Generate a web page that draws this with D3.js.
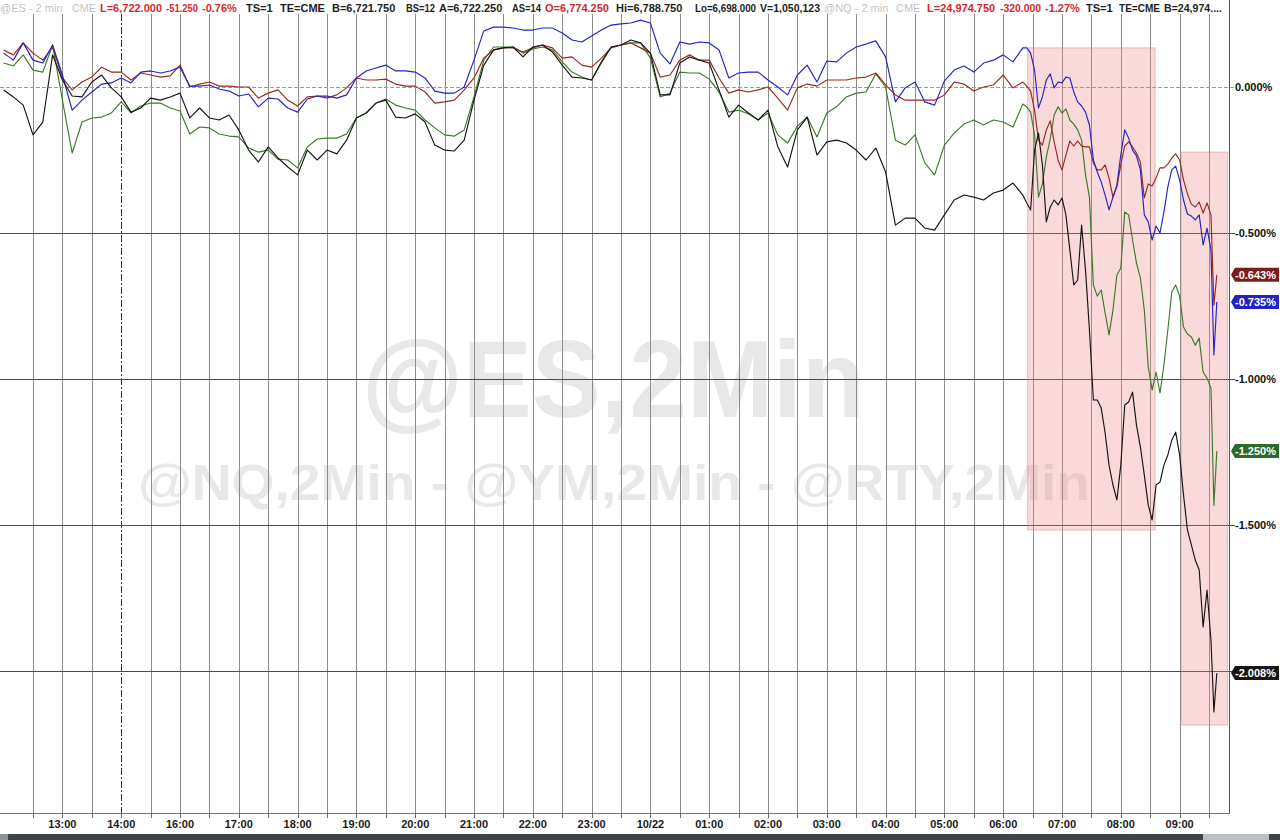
<!DOCTYPE html>
<html><head><meta charset="utf-8">
<script src="https://cdn.jsdelivr.net/npm/d3@7"></script>
<style>
body{margin:0;background:#fff;overflow:hidden}
svg{display:block}
text{font-family:"Liberation Sans",Arial,sans-serif}
</style>
</head><body>
<svg id="c" width="1280" height="840"></svg>
<script>
// ---------- DATA ----------
// sample times: session minutes since 12:00 (10-minute samples, then 4-minute samples in the sell-off)
const sampleMinutes = d3.range(0, 1040, 10).concat(d3.range(1040, 1236, 4), [1235, 1238]);

const esPct = [
 0.127, 0.110, 0.151, 0.116, 0.092, 0.137, 0.031,-0.010, 0.017, 0.034,
 0.068, 0.051, 0.051, 0.024, 0.048, 0.041, 0.034, 0.038, 0.075, 0.000,
 0.010, 0.017, 0.003, 0.003, 0.000, 0.000,-0.038,-0.021,-0.010,-0.045,
-0.065,-0.034,-0.031,-0.038,-0.027,-0.003, 0.031, 0.024, 0.024, 0.027,
 0.010, 0.003, 0.003,-0.017,-0.055,-0.051,-0.045,-0.010, 0.031, 0.099,
 0.127, 0.134, 0.134, 0.120, 0.134, 0.144, 0.134, 0.099, 0.103, 0.075,
 0.068, 0.099, 0.134, 0.144, 0.151, 0.134, 0.116, 0.034, 0.041, 0.092,
 0.110, 0.092, 0.092, 0.031,-0.021,-0.010,-0.017,-0.010, 0.000,-0.038,
-0.079,-0.003, 0.010, 0.003, 0.024, 0.024, 0.024, 0.031, 0.034, 0.048,
 0.007,-0.027,-0.045,-0.045,-0.045,-0.045,-0.027, 0.017, 0.010,-0.014,
 0.000, 0.007, 0.041,-0.003,
 0.017, 0.003,-0.014,-0.079,-0.182,-0.199,-0.147,-0.116,-0.188,-0.250,
-0.284,-0.233,-0.185,-0.202,-0.185,-0.202,-0.205,-0.205,-0.260,-0.284,
-0.284,-0.267,-0.312,-0.377,-0.342,-0.267,-0.202,-0.188,-0.205,-0.226,
-0.257,-0.380,-0.332,-0.339,-0.312,-0.277,-0.277,-0.264,-0.243,-0.229,
-0.250,-0.318,-0.366,-0.401,-0.411,-0.394,-0.432,-0.397,-0.438,
-0.747,-0.643];

const nqPct = [
 0.116, 0.092, 0.151, 0.092, 0.082, 0.144, 0.041,-0.079,-0.045,-0.017,
 0.010, 0.014, 0.031, 0.014, 0.051, 0.055, 0.048, 0.055, 0.068, 0.003,
 0.003, 0.007,-0.007,-0.014,-0.031,-0.024,-0.068,-0.038,-0.041,-0.072,
-0.086,-0.041,-0.031,-0.031,-0.038,-0.027, 0.031, 0.055, 0.065, 0.075,
 0.055, 0.055, 0.051, 0.031,-0.014,-0.021,-0.021, 0.000, 0.092, 0.192,
 0.205, 0.205, 0.202, 0.195, 0.195, 0.202, 0.202, 0.185, 0.161, 0.154,
 0.175, 0.195, 0.212, 0.216, 0.219, 0.229, 0.219, 0.116, 0.079, 0.154,
 0.147, 0.154, 0.151, 0.127, 0.031, 0.048, 0.051, 0.051, 0.024, 0.000,
-0.027, 0.041, 0.075, 0.017, 0.089, 0.086, 0.116, 0.137, 0.147, 0.158,
 0.103,-0.051,-0.003, 0.017,-0.051,-0.062, 0.021, 0.058, 0.072, 0.051,
 0.082, 0.092, 0.110, 0.086,
 0.134, 0.134, 0.116, 0.058,-0.072,-0.034, 0.024, 0.045,-0.003, 0.017,
 0.014, 0.034, 0.031,-0.017,-0.051,-0.065,-0.086,-0.130,-0.250,-0.291,
-0.325,-0.370,-0.421,-0.377,-0.336,-0.233,-0.147,-0.175,-0.216,-0.236,
-0.284,-0.438,-0.462,-0.524,-0.476,-0.500,-0.428,-0.342,-0.284,-0.271,
-0.318,-0.387,-0.435,-0.442,-0.455,-0.438,-0.541,-0.483,-0.558,
-0.918,-0.736];

const ymPct = [
 0.082, 0.072, 0.110, 0.058, 0.051, 0.144,-0.045,-0.226,-0.120,-0.106,
-0.103,-0.089,-0.051,-0.089,-0.065,-0.055,-0.055,-0.072,-0.082,-0.161,
-0.137,-0.140,-0.161,-0.168,-0.171,-0.209,-0.223,-0.216,-0.247,-0.250,
-0.277,-0.205,-0.178,-0.175,-0.175,-0.161,-0.106,-0.089,-0.055,-0.041,
-0.062,-0.072,-0.079,-0.113,-0.140,-0.164,-0.168,-0.147,-0.034, 0.092,
 0.137, 0.137, 0.137, 0.116, 0.130, 0.137, 0.127, 0.086, 0.051, 0.034,
 0.024, 0.082, 0.137, 0.144, 0.151, 0.151, 0.099,-0.034,-0.021, 0.051,
 0.048, 0.048, 0.027,-0.017,-0.086,-0.079,-0.092,-0.113,-0.089,-0.164,
-0.192,-0.134,-0.103,-0.171,-0.089,-0.068,-0.034,-0.021,-0.017, 0.045,
 0.000,-0.182,-0.199,-0.164,-0.260,-0.301,-0.199,-0.158,-0.127,-0.113,
-0.130,-0.113,-0.120,-0.137,
-0.058,-0.068,-0.086,-0.164,-0.377,-0.332,-0.240,-0.178,-0.096,-0.068,
-0.089,-0.075,-0.113,-0.127,-0.147,-0.182,-0.301,-0.377,-0.678,-0.716,
-0.695,-0.774,-0.849,-0.764,-0.644,-0.620,-0.428,-0.438,-0.524,-0.603,
-0.654,-0.764,-0.959,-1.038,-0.976,-1.048,-0.952,-0.832,-0.702,-0.678,
-0.716,-0.822,-0.846,-0.856,-0.884,-0.860,-0.976,-0.997,-1.031,
-1.432,-1.247];

const rtyPct = [
-0.010,-0.034,-0.062,-0.164,-0.120, 0.110, 0.024,-0.031,-0.034, 0.017,
 0.041,-0.003,-0.034,-0.086,-0.072,-0.038,-0.045,-0.034,-0.021,-0.106,
-0.072,-0.106,-0.113,-0.096,-0.147,-0.216,-0.257,-0.205,-0.243,-0.274,
-0.301,-0.216,-0.250,-0.216,-0.229,-0.182,-0.106,-0.089,-0.055,-0.045,
-0.103,-0.106,-0.092,-0.120,-0.199,-0.216,-0.219,-0.182,-0.045, 0.075,
 0.127, 0.134, 0.137, 0.103, 0.137, 0.144, 0.120, 0.075, 0.034, 0.031,
 0.024, 0.086, 0.137, 0.144, 0.161, 0.151, 0.116,-0.027,-0.027, 0.082,
 0.103, 0.092, 0.082,-0.010,-0.103,-0.062,-0.089,-0.113,-0.079,-0.205,
-0.274,-0.147,-0.103,-0.233,-0.188,-0.182,-0.192,-0.216,-0.250,-0.209,
-0.291,-0.473,-0.449,-0.449,-0.483,-0.490,-0.438,-0.387,-0.370,-0.377,
-0.387,-0.363,-0.353,-0.329,
-0.370,-0.397,-0.421,-0.216,-0.158,-0.267,-0.462,-0.411,-0.387,-0.404,
-0.380,-0.438,-0.558,-0.678,-0.661,-0.473,-0.627,-0.832,-1.072,-1.072,
-1.099,-1.185,-1.295,-1.363,-1.414,-1.295,-1.089,-1.079,-1.045,-1.158,
-1.233,-1.329,-1.432,-1.483,-1.363,-1.353,-1.295,-1.260,-1.209,-1.182,
-1.260,-1.397,-1.517,-1.568,-1.620,-1.654,-1.849,-1.723,-1.894,
-2.140,-2.007];

const seriesNames = ["@ES", "@NQ", "@YM", "@RTY"];
const lastLabels = ["-0.643%", "-0.735%", "-1.250%", "-2.008%"];

const yTicks = [0, -0.5, -1, -1.5, -2];
const yTickLabels = ["0.000%", "-0.500%", "-1.000%", "-1.500%", "-2.000%"];

// half-hour grid slots; slot s sits at session minute 30 + 30*s
const gridSlots = d3.range(0, 41);
const timeLabels = ["13:00","14:00","16:00","17:00","18:00","19:00","20:00","21:00","22:00","23:00",
                    "10/22","01:00","02:00","03:00","04:00","05:00","06:00","07:00","08:00","09:00"];
const timeLabelSlots = [1,3,5,7,9,11,13,15,17,19,21,23,25,27,29,31,33,35,37,39];
const sessionBreakSlot = 3;

// highlighted zones (session minutes, percent)
const zoneStart = [1045, 1202];
const zoneEnd   = [1175, 1249];
const zoneTop   = [0.134, -0.223];
const zoneBottom= [-1.517, -2.185];

// ---------- LAYOUT ----------
const W = 1280, H = 840;
const plotRight = 1229.5, axisY = 813;
const svg = d3.select("#c");
svg.append("rect").attr("width", W).attr("height", H).attr("fill", "#fff");

const x = d3.scaleLinear().domain([0, 1260]).range([3.6, 3.6 + 1260 * 0.98]);
const y = d3.scaleLinear().domain([0, -2]).range([87, 671]);
const slotX = s => x(30 + 30 * s);

const colors = ["#952a20", "#2323c8", "#3b7a2c", "#151515"];
const labelFill = ["#7a1d1a", "#2222c6", "#2a6a2a", "#161616"];
const allSeries = [esPct, nqPct, ymPct, rtyPct];

// watermarks
svg.append("text").attr("x", 362).attr("y", 417).attr("textLength", 503)
  .attr("lengthAdjust", "spacingAndGlyphs")
  .attr("font-size", 110).attr("font-weight", "bold").attr("fill", "#e8e8e8")
  .text("@ES,2Min");
svg.append("text").attr("x", 138).attr("y", 500).attr("textLength", 952)
  .attr("lengthAdjust", "spacingAndGlyphs")
  .attr("font-size", 50).attr("font-weight", "bold").attr("fill", "#e8e8e8")
  .text("@NQ,2Min - @YM,2Min - @RTY,2Min");

// vertical grid
const g = svg.append("g").attr("shape-rendering", "crispEdges");
g.selectAll("line.v").data(gridSlots).join("line")
  .attr("x1", s => Math.round(slotX(s)) + 0.5).attr("x2", s => Math.round(slotX(s)) + 0.5)
  .attr("y1", 14).attr("y2", axisY + 5)
  .attr("stroke", s => s === sessionBreakSlot ? "#333" : "#8c8c8c")
  .attr("stroke-dasharray", s => s === sessionBreakSlot ? "7,2,2,2" : null)
  .attr("stroke-width", 1);

// horizontal grid
g.selectAll("line.h").data(yTicks).join("line")
  .attr("x1", 0).attr("x2", plotRight + 5)
  .attr("y1", d => Math.round(y(d)) + 0.5).attr("y2", d => Math.round(y(d)) + 0.5)
  .attr("stroke", d => d === 0 ? "#9a9a9a" : "#4a4a4a")
  .attr("stroke-dasharray", d => d === 0 ? "4,2" : null);

// highlight zones
svg.append("g").selectAll("rect").data(zoneStart).join("rect")
  .attr("x", (d, i) => x(zoneStart[i]))
  .attr("width", (d, i) => x(zoneEnd[i]) - x(zoneStart[i]))
  .attr("y", (d, i) => y(zoneTop[i]))
  .attr("height", (d, i) => y(zoneBottom[i]) - y(zoneTop[i]))
  .attr("fill", "rgba(236,128,128,0.30)")
  .attr("stroke", "rgba(225,120,120,0.45)").attr("stroke-width", 1);

// right axis line
g.append("line").attr("x1", plotRight).attr("x2", plotRight).attr("y1", 0).attr("y2", axisY)
  .attr("stroke", "#555");

// bottom axis
g.append("line").attr("x1", 0).attr("x2", plotRight).attr("y1", axisY + 0.5).attr("y2", axisY + 0.5)
  .attr("stroke", "#777");
g.selectAll("line.t").data(gridSlots).join("line")
  .attr("x1", s => Math.round(slotX(s)) + 0.5).attr("x2", s => Math.round(slotX(s)) + 0.5)
  .attr("y1", axisY).attr("y2", axisY + 5).attr("stroke", "#666");

svg.append("g").selectAll("text").data(timeLabels).join("text")
  .attr("x", (d, i) => slotX(timeLabelSlots[i]))
  .attr("y", 828).attr("text-anchor", "middle")
  .attr("font-size", 11).attr("font-weight", "bold").attr("fill", "#1a1a1a")
  .text(d => d);

// bottom scrollbar strip
svg.append("rect").attr("x", 0).attr("y", 834).attr("width", W).attr("height", 6).attr("fill", "#3d424c");
svg.append("rect").attr("x", 0).attr("y", 834).attr("width", 8).attr("height", 6).attr("fill", "#8e949e");
svg.append("rect").attr("x", 1203).attr("y", 834).attr("width", 66).attr("height", 6).attr("fill", "#b9bec8");

// y tick labels
svg.append("g").selectAll("text").data(yTicks.slice(0, 4)).join("text")
  .attr("x", 1235).attr("y", d => y(d) + 4)
  .attr("font-size", 11).attr("font-weight", "bold").attr("fill", "#111")
  .text((d, i) => yTickLabels[i]);

// series lines
const line = d3.line().x((d, i) => x(sampleMinutes[i])).y(d => y(d)).curve(d3.curveLinear);
[2, 0, 1, 3].forEach(si => {
  svg.append("path").datum(allSeries[si])
    .attr("d", line).attr("fill", "none")
    .attr("stroke", colors[si]).attr("stroke-width", 1.15)
    .attr("stroke-linejoin", "round");
});

// last value tags
const tags = svg.append("g");
allSeries.forEach((s, i) => {
  const yy = y(s[s.length - 1]);
  tags.append("path")
    .attr("d", `M1231,${yy} L1235,${yy - 7} L1279,${yy - 7} L1279,${yy + 7} L1235,${yy + 7} Z`)
    .attr("fill", labelFill[i]);
  tags.append("text").attr("x", 1235).attr("y", yy + 4)
    .attr("font-size", 11).attr("font-weight", "bold").attr("fill", "#fff")
    .text(lastLabels[i]);
});

// header
const headerParts = [
  ["@ES - 2 min", 0, "#c4c4c4"], ["CME", 72, "#c4c4c4"],
  ["L=6,722.000", 100, "#d22a2a"], ["-51.250", 166, "#d22a2a"], ["-0.76%", 202, "#d22a2a"],
  ["TS=1", 246, "#1e1e1e"], ["TE=CME", 280, "#1e1e1e"], ["B=6,721.750", 332, "#1e1e1e"],
  ["BS=12", 406, "#1e1e1e"], ["A=6,722.250", 439, "#1e1e1e"], ["AS=14", 512, "#1e1e1e"],
  ["O=6,774.250", 545, "#d22a2a"], ["Hi=6,788.750", 616, "#1e1e1e"], ["Lo=6,698.000", 695, "#1e1e1e"],
  ["V=1,050,123", 760, "#1e1e1e"], ["@NQ - 2 min", 824, "#c4c4c4"], ["CME", 896, "#c4c4c4"],
  ["L=24,974.750", 927, "#d22a2a"], ["-320.000", 1000, "#d22a2a"], ["-1.27%", 1045, "#d22a2a"],
  ["TS=1", 1086, "#1e1e1e"], ["TE=CME", 1119, "#1e1e1e"], ["B=24,974....", 1164, "#1e1e1e"]
];
svg.append("rect").attr("x", 0).attr("y", 0).attr("width", plotRight - 0.5).attr("height", 13).attr("fill", "#fff");
const headerTexts = svg.append("g").selectAll("text").data(headerParts).join("text")
  .attr("x", d => d[1]).attr("y", 12)
  .attr("font-size", 11).attr("font-weight", d => d[2] === "#c4c4c4" ? "normal" : "bold")
  .attr("fill", d => d[2]).text(d => d[0]);
headerTexts.each(function(d, i) {
  const next = i < headerParts.length - 1 ? headerParts[i + 1][1] : 1226;
  const avail = next - d[1] - 4;
  if (this.getComputedTextLength() > avail) {
    d3.select(this).attr("textLength", avail).attr("lengthAdjust", "spacingAndGlyphs");
  }
});
</script>
</body></html>
